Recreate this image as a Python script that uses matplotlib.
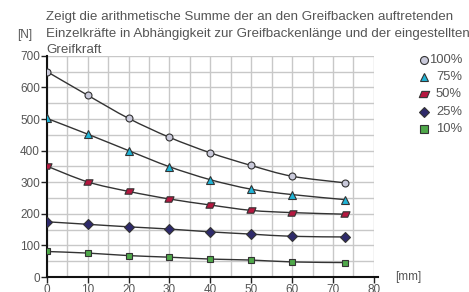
import matplotlib.pyplot as plt
import numpy as np
from matplotlib.path import Path
from matplotlib.patches import PathPatch
from matplotlib.lines import Line2D

plt.rcParams['font.family'] = ['Liberation Sans', 'DejaVu Sans']

# Greifbackenlänge [mm]
laenge = [0, 10, 20, 30, 40, 50, 60, 73]
# Summe der Einzelkräfte [N] je eingestellter Greifkraft
f100 = [650, 575, 502, 442, 393, 353, 319, 298]
f75 = [502, 452, 400, 349, 308, 278, 261, 245]
f50 = [351, 301, 271, 247, 228, 211, 204, 199]
f25 = [175, 167, 159, 152, 143, 136, 129, 127]
f10 = [81, 76, 68, 63, 57, 54, 48, 46]
labels = ['100%', '75%', '50%', '25%', '10%']

# parallelogramm als marker
para = Path([(-1, -0.6), (0.5, -0.6), (1, 0.6), (-0.5, 0.6), (-1, -0.6)],
            [Path.MOVETO, Path.LINETO, Path.LINETO, Path.LINETO, Path.CLOSEPOLY])

styles = [
    ('o', '#c9c9da', 5.0),
    ('^', '#1fb4d6', 5.5),
    (para, '#b5173f', 6.5),
    ('D', '#2e2a6b', 4.6),
    ('s', '#4fa84a', 5.0),
]


def glatte_kurve(x, y):
    # Bezier-Pfad durch die Punkte (Catmull-Rom Tangenten)
    x = np.asarray(x, float)
    y = np.asarray(y, float)
    verts = [(x[0], y[0])]
    codes = [Path.MOVETO]
    n = len(x)
    for i in range(n - 1):
        i0 = max(i - 1, 0)
        i3 = min(i + 2, n - 1)
        c1 = (x[i] + (x[i + 1] - x[i0]) / 6, y[i] + (y[i + 1] - y[i0]) / 6)
        c2 = (x[i + 1] - (x[i3] - x[i]) / 6, y[i + 1] - (y[i3] - y[i]) / 6)
        verts += [c1, c2, (x[i + 1], y[i + 1])]
        codes += [Path.CURVE4] * 3
    return Path(verts, codes)


fig = plt.figure(figsize=(4.69, 2.92), dpi=100)
ax = fig.add_axes([0.100, 0.051, 0.697, 0.758])

grau = '#555555'
for ys, (m, c, ms) in zip([f100, f75, f50, f25, f10], styles):
    ax.add_patch(PathPatch(glatte_kurve(laenge, ys), facecolor='none',
                           edgecolor='#333333', lw=1.0, zorder=3))
    ax.plot(laenge, ys, linestyle='none', marker=m, markersize=ms,
            markerfacecolor=c, markeredgecolor='#333333', markeredgewidth=0.8,
            zorder=4)

ax.set_xlim(0, 80)
ax.set_ylim(0, 700)
ax.set_xticks(np.arange(0, 81, 10))
ax.set_yticks(np.arange(0, 701, 100))
ax.set_xticks(np.arange(0, 81, 5), minor=True)
ax.set_yticks(np.arange(0, 701, 50), minor=True)
ax.grid(which='both', color='#c8c8c8', lw=1.0, zorder=0)
ax.set_axisbelow(True)
ax.tick_params(which='minor', length=0)
ax.tick_params(which='major', length=4, width=1, colors='#222222',
               labelcolor=grau, labelsize=8.5, pad=1)
for s in ['top', 'right']:
    ax.spines[s].set_visible(False)
for s in ['left', 'bottom']:
    ax.spines[s].set_linewidth(1.5)
    ax.spines[s].set_color('#111111')
ax.spines['bottom'].set_bounds(0, 81)

fig.text(0.099, 0.9315, 'Zeigt die arithmetische Summe der an den Greifbacken auftretenden',
         fontsize=9.6, color=grau, va='baseline')
fig.text(0.099, 0.8743, 'Einzelkräfte in Abhängigkeit zur Greifbackenlänge und der eingestellten',
         fontsize=9.6, color=grau, va='baseline')
fig.text(0.099, 0.8195, 'Greifkraft', fontsize=9.6, color=grau, va='baseline')
fig.text(0.036, 0.880, '[N]', fontsize=8.5, color=grau, va='center')
fig.text(0.843, 0.050, '[mm]', fontsize=8.5, color=grau, va='center')

# Legende rechts, Text rechtsbündig
for i, ((m, c, ms), lab) in enumerate(zip(styles, labels)):
    yy = 0.795 - i * 0.0593
    fig.add_artist(Line2D([0.903], [yy], transform=fig.transFigure, linestyle='none',
                          marker=m, markersize=ms * 1.15, markerfacecolor=c,
                          markeredgecolor='#333333', markeredgewidth=0.8))
    fig.text(0.985, yy, lab, fontsize=9.4, color=grau, ha='right', va='center')

fig.savefig('out.png', dpi=100)
